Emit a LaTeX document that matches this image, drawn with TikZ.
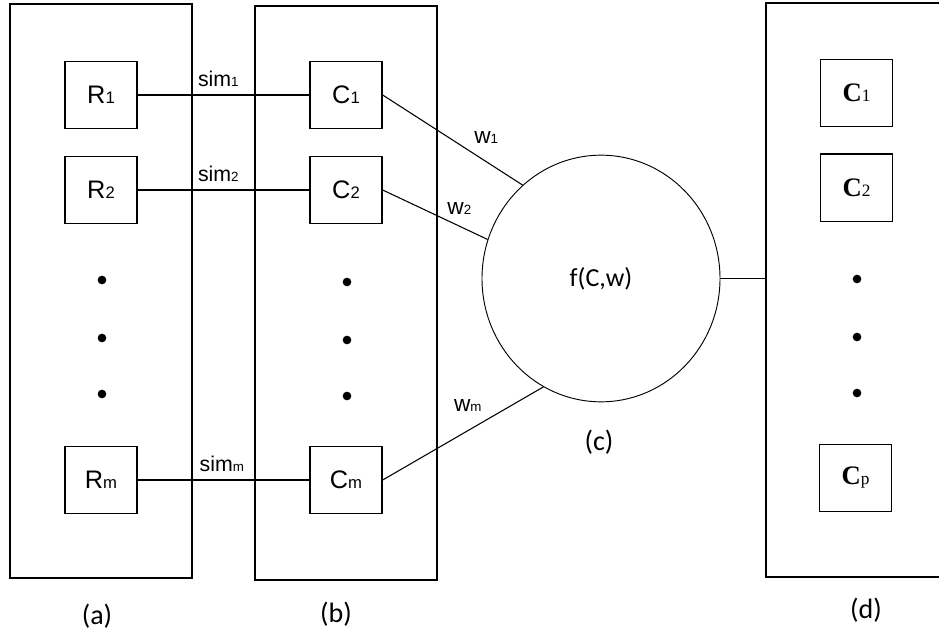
\documentclass[tikz,border=0pt]{standalone}
\usepackage{fontspec}
\setmainfont{Liberation Sans}
\newfontfamily\calfont{Carlito}
\newfontfamily\serfont{Liberation Serif}
\usepackage{tikz}
\usetikzlibrary{positioning, shapes.geometric, calc}
\newcommand{\lowidx}[2]{{\fontsize{#1}{#1}\selectfont #2}}

\begin{document}
\begin{tikzpicture}[
    x=0.75pt, y=-0.75pt,
    every node/.style={font=\fontsize{19}{21}\selectfont},
    panel/.style={rectangle, draw=black, line width=1pt, minimum width=136.5pt, minimum height=430.5pt},
    item/.style={rectangle, draw=black, line width=1pt, minimum width=54pt, minimum height=50.5pt},
    citem/.style={item, font=\serfont\bfseries\fontsize{20}{22}\selectfont},
    dot/.style={circle, fill=black, inner sep=0pt, minimum size=6.5pt},
    func/.style={ellipse, draw=black, line width=0.7pt, minimum width=178.5pt, minimum height=185pt, inner sep=0pt, font=\calfont\fontsize{19.5}{22}\selectfont},
    tag/.style={font=\calfont\fontsize{21}{24}\selectfont},
    simlab/.style={font=\fontsize{16}{18}\selectfont},
    wlab/.style={font=\fontsize{17}{19}\selectfont},
    link/.style={line width=0.8pt}
]

\useasboundingbox (0,0) rectangle (939,635);
\clip (0,0) rectangle (939,635);

% panels
\node[panel] (seta) at (101,291) {};
\node[panel] (setb) at (346,293) {};
\node[panel, minimum width=141pt] (setd) at (860,290) {};

% panel (a)
\node[item] (r1) at (101,95) {R\lowidx{12.5}{1}};
\node[item] (r2) at (101,190) {R\lowidx{12.5}{2}};
\node[dot] (ra1) at (102,280) {};
\node[dot] (ra2) at (102,338) {};
\node[dot] (ra3) at (102,394) {};
\node[item] (rm) at (101,480) {R\lowidx{12.5}{m}};

% panel (b)
\node[item] (c1) at (346,95) {C\lowidx{12.5}{1}};
\node[item] (c2) at (346,190) {C\lowidx{12.5}{2}};
\node[dot] (cb1) at (347,282) {};
\node[dot] (cb2) at (347,340) {};
\node[dot] (cb3) at (347,396) {};
\node[item] (cm) at (346,480) {C\lowidx{12.5}{m}};

% function
\node[func] (fcw) at (601,278.5) {f(C,w)};

% panel (d)
\node[citem] (d1) at (856.5,93) {C\lowidx{13}{\mdseries 1}};
\node[citem] (d2) at (856.5,187.5) {C\lowidx{13}{\mdseries 2}};
\node[dot] (dd1) at (857,279) {};
\node[dot] (dd2) at (857,337) {};
\node[dot] (dd3) at (857,393) {};
\node[citem] (dp) at (855.5,478) {C\lowidx{13}{\mdseries p}};

% captions
\node[tag] (capa) at (97,616) {(a)};
\node[tag] (capb) at (336,614) {(b)};
\node[tag] (capc) at (599,442) {(c)};
\node[tag] (capd) at (866,610) {(d)};

\draw[link] (r1) -- node[simlab, pos=0.47, above=2.5pt] {sim\lowidx{10}{1}} (c1);
\draw[link] (r2) -- node[simlab, pos=0.47, above=2.5pt] {sim\lowidx{10}{2}} (c2);
\draw[link] (rm) -- node[simlab, pos=0.49, above=2.5pt] {sim\lowidx{10}{m}} (cm);

\draw[link] (c1.east) -- node[wlab, pos=0.74, above=10pt] {w\lowidx{10}{1}} (fcw.130);
\draw[link] (c2.east) -- node[wlab, pos=0.73, above=5pt] {w\lowidx{10}{2}} (fcw.161);
\draw[link] (cm.east) -- node[wlab, pos=0.53, above=11pt] {w\lowidx{10}{m}} (fcw.242);

\draw[link] (fcw) -- (fcw -| setd.west);

\end{tikzpicture}
\end{document}
